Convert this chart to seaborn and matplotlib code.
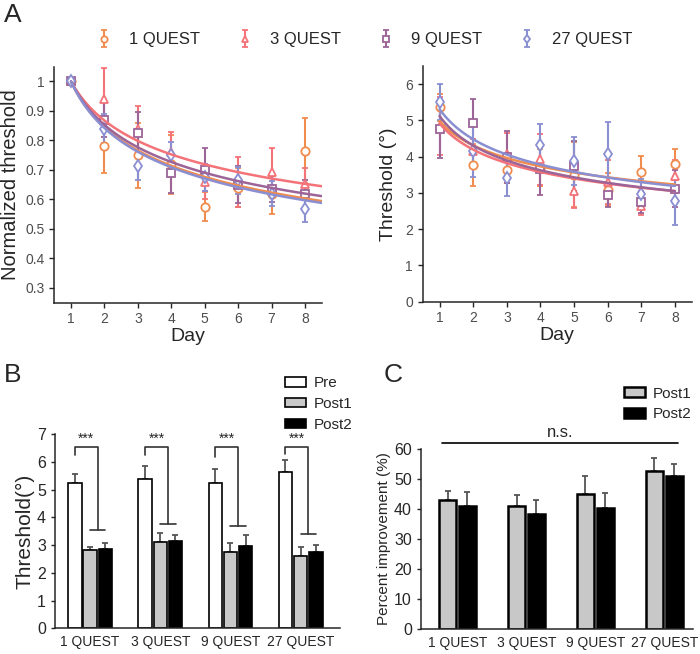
import numpy as np
import pandas as pd
import matplotlib
matplotlib.use("Agg")
import matplotlib.pyplot as plt
import seaborn as sns

# panel A - learning curves
days = [1, 2, 3, 4, 5, 6, 7, 8]
quest_names = ["1 QUEST", "3 QUEST", "9 QUEST", "27 QUEST"]
quest_colors = ["#F08C4E", "#F47378", "#9C6497", "#8A8FD2"]
quest_markers = ["o", "^", "s", "d"]

norm_1q = [1.0, 0.78, 0.75, 0.72, 0.576, 0.64, 0.62, 0.765]
norm_1q_err = [0.0, 0.09, 0.11, 0.10, 0.05, 0.065, 0.07, 0.11]
norm_3q = [1.0, 0.94, 0.84, 0.76, 0.66, 0.66, 0.693, 0.653]
norm_3q_err = [0.0, 0.105, 0.078, 0.07, 0.06, 0.085, 0.08, 0.052]
norm_9q = [1.0, 0.87, 0.826, 0.688, 0.70, 0.65, 0.636, 0.617]
norm_9q_err = [0.0, 0.06, 0.072, 0.065, 0.073, 0.062, 0.045, 0.05]
norm_27q = [1.0, 0.84, 0.713, 0.75, 0.675, 0.665, 0.62, 0.568]
norm_27q_err = [0.0, 0.048, 0.048, 0.045, 0.045, 0.045, 0.042, 0.045]

thr_1q = [5.36, 3.76, 3.63, 3.70, 3.50, 3.09, 3.58, 3.79]
thr_1q_err = [0.37, 0.58, 0.35, 0.50, 0.90, 0.45, 0.45, 0.43]
thr_3q = [4.85, 4.15, 4.06, 3.93, 3.05, 3.30, 2.63, 3.46]
thr_3q_err = [0.80, 0.35, 0.60, 0.70, 0.46, 0.60, 0.25, 0.45]
thr_9q = [4.76, 4.92, 4.00, 3.65, 3.74, 2.93, 2.74, 3.12]
thr_9q_err = [0.80, 0.67, 0.72, 0.72, 0.70, 0.32, 0.30, 0.50]
thr_27q = [5.50, 4.15, 3.42, 4.31, 3.88, 4.06, 2.98, 2.77]
thr_27q_err = [0.50, 0.70, 0.50, 0.58, 0.66, 0.90, 0.40, 0.65]

# power-law fits y = a * day^b (parameters)
norm_fit_a = [1.0, 1.0, 1.0, 1.0]
norm_fit_b = [-0.243, -0.205, -0.230, -0.248]
thr_fit_a = [4.98, 4.92, 5.12, 5.31]
thr_fit_b = [-0.208, -0.230, -0.249, -0.245]

# panel B - thresholds pre / post
groups = ["1 QUEST", "3 QUEST", "9 QUEST", "27 QUEST"]
phases = ["Pre", "Post1", "Post2"]
pre = [5.25, 5.37, 5.25, 5.64]
pre_err = [0.32, 0.49, 0.49, 0.44]
post1 = [2.82, 3.11, 2.76, 2.62]
post1_err = [0.12, 0.31, 0.30, 0.30]
post2 = [2.87, 3.16, 2.98, 2.75]
post2_err = [0.19, 0.22, 0.37, 0.26]
sig_left_low = [6.24, 6.24, 6.17, 6.28]
sig_right_low = [3.55, 3.76, 3.69, 3.40]
sig_top = 6.55

# panel C - percent improvement
imp_post1 = [43.0, 41.1, 45.1, 52.8]
imp_post1_err = [3.0, 3.6, 5.8, 4.2]
imp_post2 = [41.0, 38.3, 40.3, 51.0]
imp_post2_err = [4.8, 4.7, 5.1, 4.0]
ns_level = 61.9

sns.set_style("ticks")
plt.rcParams["font.family"] = ["Liberation Sans", "DejaVu Sans"]
plt.rcParams["axes.linewidth"] = 1.1

fig = plt.figure(figsize=(7, 6.54), dpi=100)
axA1 = fig.add_axes([0.0776, 0.5372, 0.382, 0.3608])
axA2 = fig.add_axes([0.6039, 0.5387, 0.3843, 0.3604])
axB = fig.add_axes([0.0786, 0.0393, 0.407, 0.297])
axC = fig.add_axes([0.6014, 0.0382, 0.389, 0.2752])


def draw_curves(ax, series, errs, fit_a, fit_b, x_end):
    handles = []
    for i, name in enumerate(quest_names):
        h = ax.errorbar(days, series[i], yerr=errs[i], fmt=quest_markers[i],
                        color=quest_colors[i], mfc="white", mec=quest_colors[i],
                        ms=6, mew=1.3, elinewidth=1.5, capsize=2.5, capthick=1.5,
                        zorder=2)
        handles.append(h)
    xs = np.linspace(1, x_end, 120)
    rows = []
    for i, name in enumerate(quest_names):
        for x in xs:
            rows.append({"day": x, "value": fit_a[i] * x ** fit_b[i], "quest": name})
    fit_df = pd.DataFrame(rows)
    sns.lineplot(data=fit_df, x="day", y="value", hue="quest", palette=quest_colors,
                 hue_order=quest_names, lw=1.8, legend=False, ax=ax, zorder=3)
    ax.set_xlim(0.5, 8.5)
    ax.set_xticks(days)
    ax.set_xlabel("Day", fontsize=14, labelpad=1)
    ax.tick_params(labelsize=10, labelcolor="#4D4D4D", length=3.5, width=1.0)
    sns.despine(ax=ax)
    return handles


handles = draw_curves(axA1, [norm_1q, norm_3q, norm_9q, norm_27q],
                      [norm_1q_err, norm_3q_err, norm_9q_err, norm_27q_err],
                      norm_fit_a, norm_fit_b, 8.5)
axA1.set_ylim(0.25, 1.05)
axA1.set_yticks([0.3, 0.4, 0.5, 0.6, 0.7, 0.8, 0.9, 1.0])
axA1.set_yticklabels(["0.3", "0.4", "0.5", "0.6", "0.7", "0.8", "0.9", "1"])
axA1.set_ylabel("Normalized threshold", fontsize=14.5, labelpad=4)

draw_curves(axA2, [thr_1q, thr_3q, thr_9q, thr_27q],
            [thr_1q_err, thr_3q_err, thr_9q_err, thr_27q_err],
            thr_fit_a, thr_fit_b, 8.0)
axA2.set_ylim(0, 6.5)
axA2.set_yticks(range(7))
axA2.set_ylabel("Threshold (°)", fontsize=14, labelpad=6)

fig.legend(handles, quest_names, loc="center", ncol=4, bbox_to_anchor=(0.52, 0.939),
           frameon=False, fontsize=12, handlelength=1.0, handletextpad=1.0,
           columnspacing=2.2, markerscale=0.75)

# panel B
dfB = pd.DataFrame({
    "group": groups * 3,
    "phase": [p for p in phases for _ in groups],
    "value": pre + post1 + post2,
})
sns.barplot(data=dfB, x="group", y="value", hue="phase", hue_order=phases,
            palette=["white", "#C8C8C8", "black"], edgecolor="black", linewidth=1.2,
            width=0.65, gap=0.12, errorbar=None, legend=False, ax=axB, zorder=2)
bar_conts = list(axB.containers)
centers = []
for cont, vals, errs in zip(bar_conts, [pre, post1, post2], [pre_err, post1_err, post2_err]):
    xs = [p.get_x() + p.get_width() / 2 for p in cont]
    centers.append(xs)
    axB.errorbar(xs, vals, yerr=[np.zeros(len(vals)), errs], fmt="none",
                 ecolor="#555555", elinewidth=1.3, capsize=2.5, capthick=1.3, zorder=1)
for g in range(len(groups)):
    x_pre = centers[0][g]
    x_post = (centers[1][g] + centers[2][g]) / 2
    axB.plot([x_pre, x_pre, x_post, x_post],
             [sig_left_low[g], sig_top, sig_top, sig_right_low[g]],
             color="#333333", lw=1.2)
    axB.plot([x_post - 0.11, x_post + 0.11], [sig_right_low[g]] * 2,
             color="#333333", lw=1.2)
    axB.text((x_pre + x_post) / 2, sig_top + 0.02, "***", ha="center", va="bottom",
             fontsize=10)
axB.set_xlim(-0.5, 3.56)
axB.set_ylim(0, 7)
axB.set_yticks(range(8))
axB.set_xlabel("")
axB.set_ylabel("Threshold(°)", fontsize=15, labelpad=2)
axB.tick_params(axis="y", labelsize=11.5, length=3, width=1.0)
axB.tick_params(axis="x", labelsize=10, length=0, pad=5)
sns.despine(ax=axB)
fig.legend(bar_conts, phases, loc="upper left", bbox_to_anchor=(0.388, 0.446),
           frameon=False, fontsize=11, handlelength=1.35, handleheight=0.6,
           handletextpad=0.5, labelspacing=0.45)

# panel C
dfC = pd.DataFrame({
    "group": groups * 2,
    "phase": ["Post1"] * 4 + ["Post2"] * 4,
    "value": imp_post1 + imp_post2,
})
sns.barplot(data=dfC, x="group", y="value", hue="phase", hue_order=["Post1", "Post2"],
            palette=["#C8C8C8", "black"], edgecolor="black", linewidth=1.8,
            width=0.576, gap=0.14, errorbar=None, legend=False, ax=axC, zorder=2)
bar_conts_c = list(axC.containers)
for cont, vals, errs in zip(bar_conts_c, [imp_post1, imp_post2], [imp_post1_err, imp_post2_err]):
    xs = [p.get_x() + p.get_width() / 2 for p in cont]
    axC.errorbar(xs, vals, yerr=[np.zeros(len(vals)), errs], fmt="none",
                 ecolor="#555555", elinewidth=1.3, capsize=2.5, capthick=1.3, zorder=1)
axC.plot([-0.23, 3.2], [ns_level, ns_level], color="black", lw=1.2, clip_on=False)
axC.text(1.485, ns_level + 1.0, "n.s.", ha="center", va="bottom", fontsize=12)
axC.set_xlim(-0.53, 3.42)
axC.set_ylim(0, 60)
axC.set_yticks(range(0, 61, 10))
axC.set_xlabel("")
axC.set_ylabel("Percent improvement (%)", fontsize=11, labelpad=2)
axC.tick_params(axis="y", labelsize=11.5, length=3, width=1.0)
axC.tick_params(axis="x", labelsize=10, length=0, pad=5)
sns.despine(ax=axC)
fig.legend(bar_conts_c, ["Post1", "Post2"], loc="upper left", bbox_to_anchor=(0.872, 0.43),
           frameon=False, fontsize=11, handlelength=1.35, handleheight=0.6,
           handletextpad=0.5, labelspacing=0.45)

# panel letters
fig.text(0.005, 0.995, "A", fontsize=19, va="top", ha="left")
fig.text(0.005, 0.445, "B", fontsize=19, va="top", ha="left")
fig.text(0.548, 0.445, "C", fontsize=19, va="top", ha="left")

fig.savefig("out.png", dpi=100)
